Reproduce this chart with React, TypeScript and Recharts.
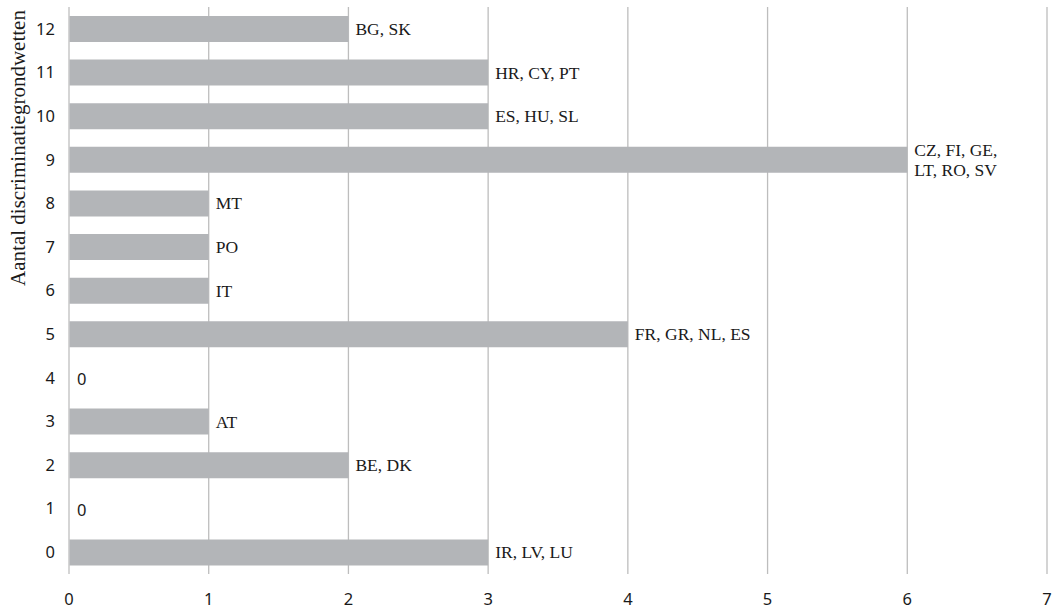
import React from "react";
import { BarChart, Bar, XAxis, YAxis, CartesianGrid, LabelList, Label, Cell } from "recharts";

const categories = ["12", "11", "10", "9", "8", "7", "6", "5", "4", "3", "2", "1", "0"];
const values = [2, 3, 3, 6, 1, 1, 1, 4, 0, 1, 2, 0, 3];
const countryLabels = [
  "BG, SK",
  "HR, CY, PT",
  "ES, HU, SL",
  "CZ, FI, GE,|LT, RO, SV",
  "MT",
  "PO",
  "IT",
  "FR, GR, NL, ES",
  "0",
  "AT",
  "BE, DK",
  "0",
  "IR, LV, LU",
];
const xTicks = [0, 1, 2, 3, 4, 5, 6, 7];
const yAxisTitle = "Aantal discriminatiegrondwetten";

const data = categories.map((c, i) => ({ cat: c, value: values[i], label: countryLabels[i] }));

const SERIF = "'Liberation Serif', 'Times New Roman', serif";
const SANS = "'Noto Sans', 'DejaVu Sans', sans-serif";

const renderLabel = (props: any) => {
  const { x, y, width, height, value } = props;
  const lines = String(value).split("|");
  const isZero = value === "0";
  const tx = isZero ? x + 8 : x + width + 7;
  const cy = y + height / 2;
  const lh = 20;
  const start = cy - ((lines.length - 1) * lh) / 2;
  return (
    <text
      x={tx}
      y={start}
      fill="#1a1a1a"
      fontFamily={isZero ? SANS : SERIF}
      fontSize={isZero ? 16.5 : 17.5}
      dominantBaseline="central"
    >
      {lines.map((l, i) => (
        <tspan key={i} x={tx} y={start + i * lh} dominantBaseline="central">
          {l}
        </tspan>
      ))}
    </text>
  );
};

const renderYTitle = () => {
  const x = 18;
  const y = 148;
  return (
    <text
      x={x}
      y={y}
      transform={`rotate(-90 ${x} ${y})`}
      textAnchor="middle"
      dominantBaseline="central"
      fontFamily={SERIF}
      fontSize={21}
      fill="#1a1a1a"
    >
      {yAxisTitle}
    </text>
  );
};

export default function App() {
  return (
    <div style={{ position: "absolute", left: 0, top: 0, background: "#fff" }}>
      <BarChart
        width={1057}
        height={609}
        data={data}
        layout="vertical"
        margin={{ top: 7, right: 10, bottom: 5, left: 0 }}
        barCategoryGap={0}
      >
        <CartesianGrid horizontal={false} vertical={true} stroke="#bdbdbd" strokeWidth={1.3} />
        <XAxis
          type="number"
          domain={[0, 7]}
          ticks={xTicks}
          axisLine={false}
          tickLine={false}
          tickSize={0}
          tickMargin={19}
          height={30}
          tick={{ fill: "#1a1a1a", fontFamily: SANS, fontSize: 16.5 }}
        />
        <YAxis
          type="category"
          dataKey="cat"
          width={69}
          axisLine={{ stroke: "#d6d6d6" }}
          tickLine={false}
          tickSize={0}
          tickMargin={14}
          tick={{ fill: "#1a1a1a", fontFamily: SANS, fontSize: 16.5 }}
        >
          <Label content={renderYTitle} />
        </YAxis>
        <Bar dataKey="value" fill="#b3b5b8" barSize={26} minPointSize={1} isAnimationActive={false}>
          {data.map((d, i) => (
            <Cell key={i} fill={d.value === 0 ? "transparent" : "#b3b5b8"} />
          ))}
          <LabelList dataKey="label" content={renderLabel} />
        </Bar>
      </BarChart>
    </div>
  );
}
